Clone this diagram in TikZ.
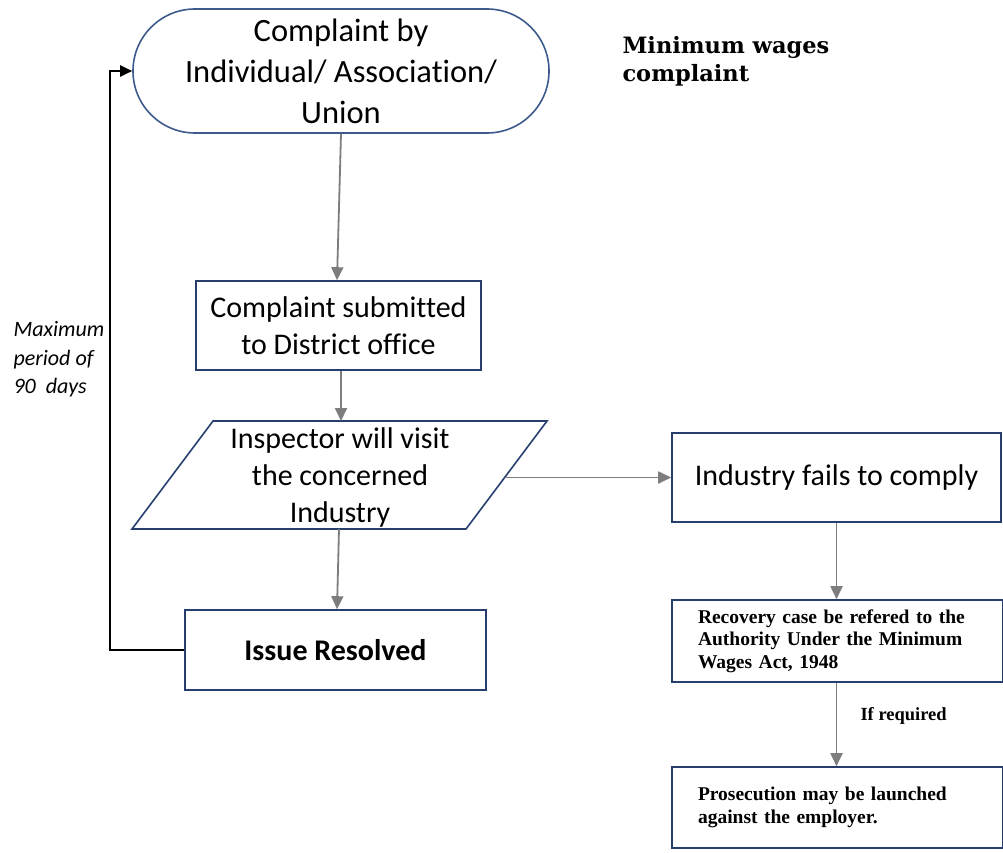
\documentclass[tikz,border=0pt]{standalone}
\usepackage{fontspec}
\setmainfont{Carlito}[Ligatures=NoCommon]
\newfontfamily\timesbf{Liberation Serif}
\newfontfamily\titlefont{DejaVu Serif}
\usetikzlibrary{arrows.meta}
\definecolor{boxblue}{RGB}{38,62,110}
\definecolor{ovalblue}{RGB}{60,90,140}
\definecolor{arrowgray}{RGB}{125,125,125}
\tikzset{
  flowbox/.style={draw=boxblue, line width=1.6pt, fill=white, inner sep=0pt},
  bodytext/.style={font=\fontsize{30}{37}\selectfont, align=center},
  flow/.style={draw=arrowgray, line width=1.8pt, -{Triangle[width=12pt,length=13pt]}},
  loopline/.style={draw=black, line width=2pt, -{Triangle[width=11pt,length=12pt]}},
  rulebox/.style={flowbox, minimum width=331pt, text width=279pt, align=left,
    font=\timesbf\bfseries\fontsize{19.5}{22.5}\selectfont},
}
\begin{document}
\begin{tikzpicture}[x=1pt,y=-1pt]
\useasboundingbox (0,0) rectangle (1003,853);
\fill[white] (0,0) rectangle (1003,853);

% start: complaint filed
\node[flowbox, draw=ovalblue, rounded corners=62pt, minimum width=416pt, minimum height=124pt,
      bodytext, font=\fontsize{32.5}{41}\selectfont] (start) at (341,71)
  {Complaint by\\Individual/ Association/\\Union};

\node[anchor=north west, align=left, font=\titlefont\bfseries\fontsize{22.5}{28}\selectfont] (title) at (619,33)
  {Minimum wages\\complaint};

% left column
\node[flowbox, minimum width=285pt, minimum height=89pt, bodytext] (district) at (338.5,325.5)
  {Complaint submitted\\to District office};

\coordinate (pTL) at (213,421);
\coordinate (pTR) at (547,421);
\coordinate (pBR) at (466,529);
\coordinate (pBL) at (132,529);
\draw[boxblue, line width=1.6pt, fill=white] (pTL) -- (pTR) -- (pBR) -- (pBL) -- cycle;
\coordinate (inspR) at (504.6,477.5);
\coordinate (inspT) at (341,421);
\coordinate (inspB) at (339,529);
\node[bodytext] (insp) at (340,477)
  {Inspector will visit\\the concerned\\Industry};

\node[flowbox, minimum width=301pt, minimum height=80pt,
      font=\bfseries\fontsize{30}{34}\selectfont] (resolved) at (335.5,650)
  {Issue Resolved};

% right column
\node[flowbox, minimum width=329pt, minimum height=89pt, bodytext] (fail) at (836.5,477.5)
  {Industry fails to comply};

\node[rulebox, minimum height=82pt] (recovery) at (837.5,641)
  {Recovery case be refered to the\\Authority Under the Minimum\\Wages Act, 1948};

\node[rulebox, minimum height=81pt] (prosecution) at (837.5,807.5)
  {Prosecution may be launched\\against the employer.\\[22.5pt]};

\node[font=\timesbf\bfseries\fontsize{18.5}{22}\selectfont, anchor=west] (ifreq) at (857,716)
  {If required};

\node[anchor=north west, align=left, font=\itshape\fontsize{22}{28.5}\selectfont] (period) at (10,318)
  {Maximum\\period of\\90~ days};

% connectors
\draw[flow] (start.south) -- (district.north -| 337,0);
\draw[flow] (district.south -| inspT) -- (inspT);
\draw[flow] (inspB) -- (resolved.north -| 337,0);
\draw[flow] (inspR) -- (fail.west);
\draw[flow] (fail.south) -- (recovery.north -| fail.south);
\draw[flow] (recovery.south -| fail.south) -- (prosecution.north -| fail.south);

\coordinate (loopcorner) at (110,650);
\draw[loopline] (resolved.west) -- (loopcorner) |- (start.west);
\end{tikzpicture}
\end{document}
